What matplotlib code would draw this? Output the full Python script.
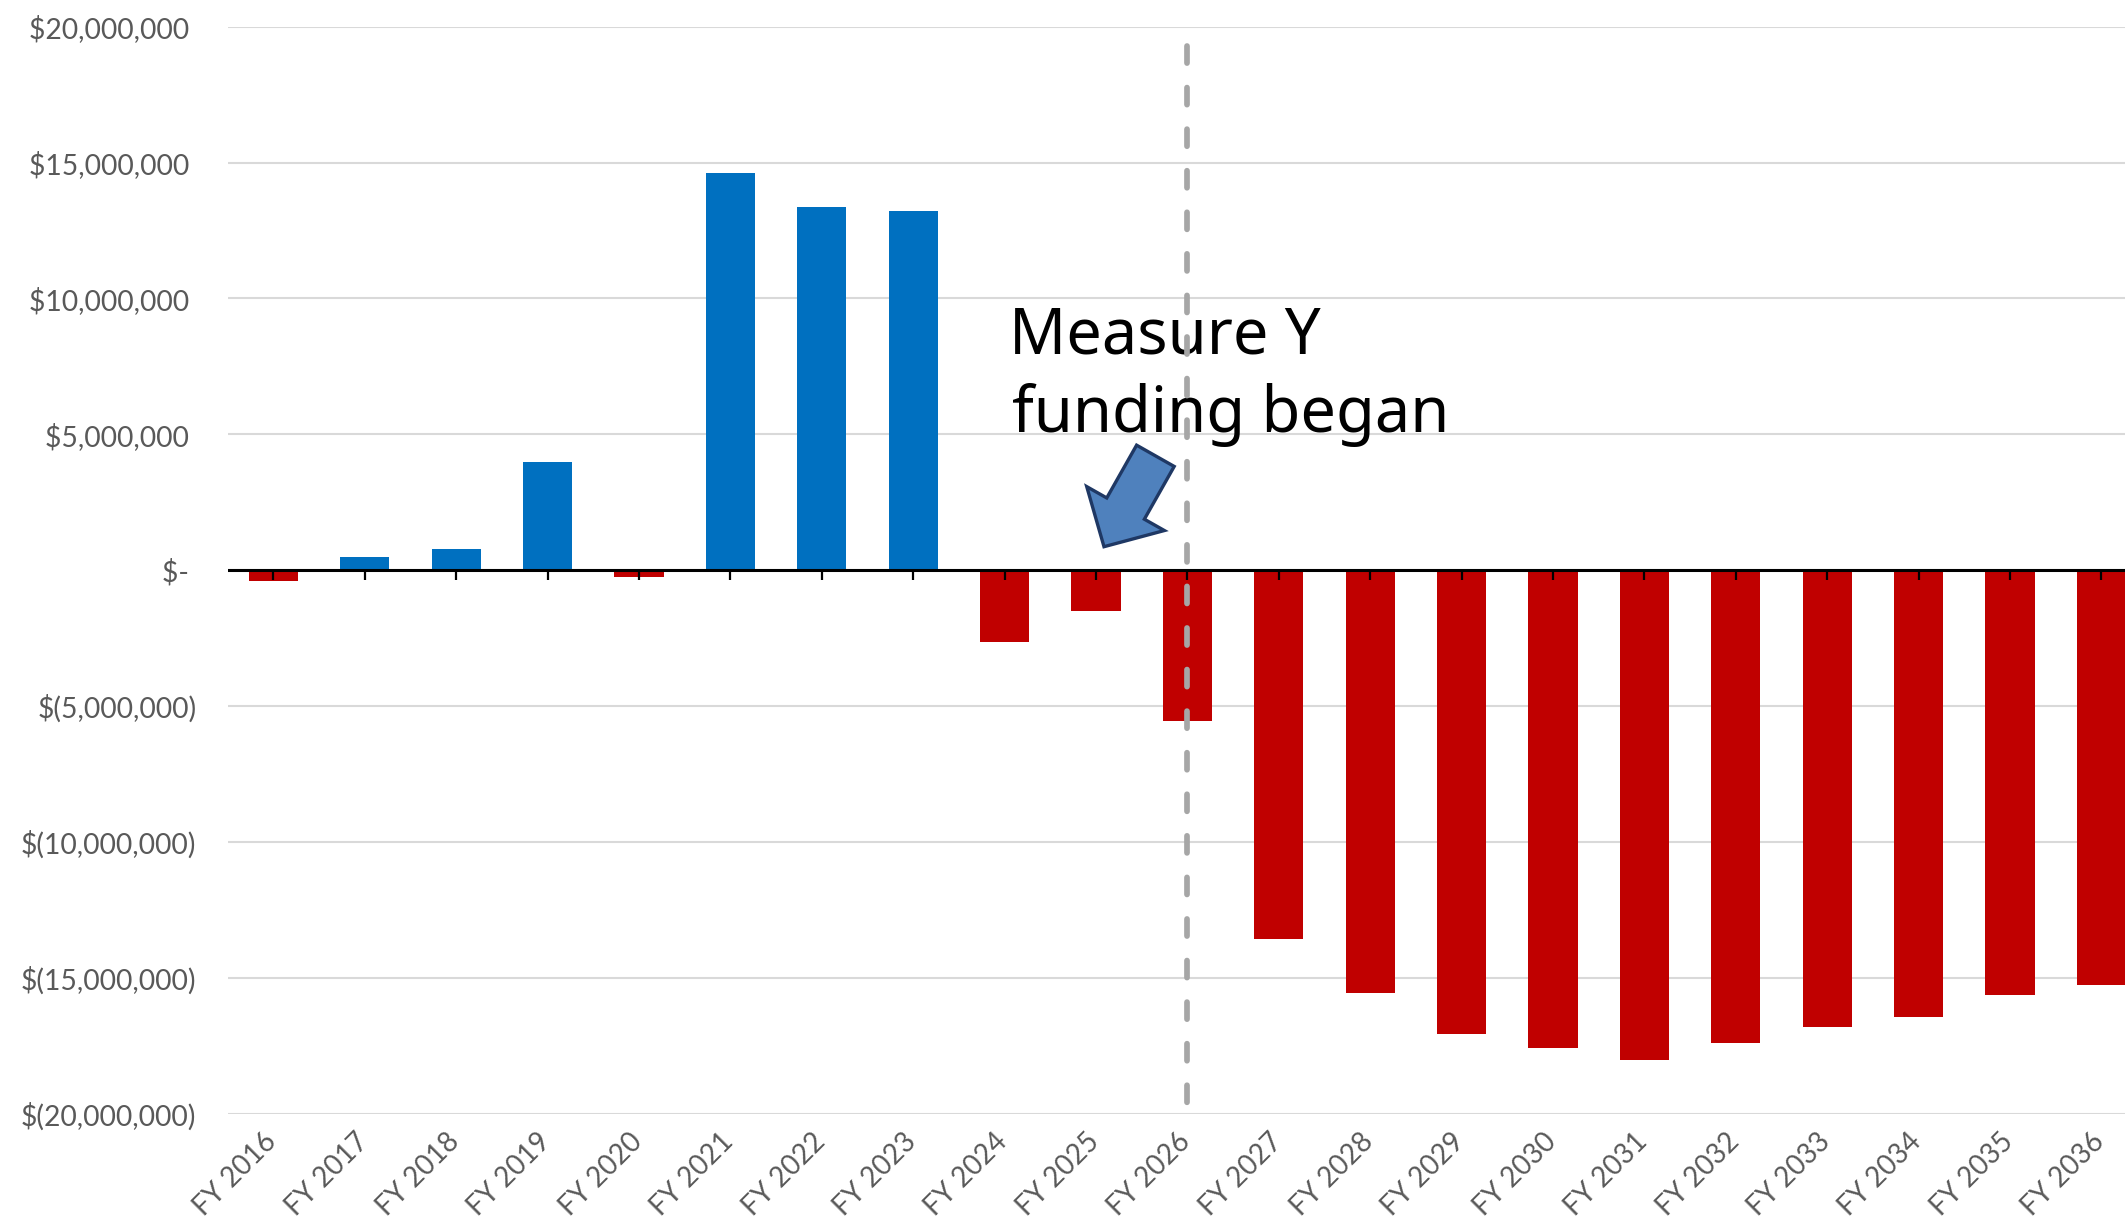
import matplotlib.pyplot as plt
import numpy as np
from matplotlib.patches import FancyArrow
from matplotlib.transforms import Affine2D, ScaledTranslation

# fiscal years and net balance (dollars)
years = ["FY 2016", "FY 2017", "FY 2018", "FY 2019", "FY 2020", "FY 2021", "FY 2022",
         "FY 2023", "FY 2024", "FY 2025", "FY 2026", "FY 2027", "FY 2028", "FY 2029",
         "FY 2030", "FY 2031", "FY 2032", "FY 2033", "FY 2034", "FY 2035", "FY 2036"]
net = [-400000, 490000, 790000, 4000000, -260000, 14620000, 13370000,
       13220000, -2650000, -1500000, -5550000, -13570000, -15570000, -17060000,
       -17600000, -18040000, -17380000, -16800000, -16440000, -15630000, -15250000]
yticks = [-20000000, -15000000, -10000000, -5000000, 0,
          5000000, 10000000, 15000000, 20000000]
marker_year = "FY 2026"
note_lines = ["Measure Y", "funding began"]

W, H = 2125, 1218
fig = plt.figure(figsize=(W / 100, H / 100), dpi=100)
fig.patch.set_facecolor("white")
ax = fig.add_axes([227.7 / W, 1 - 1113.7 / H, 1 - 227.7 / W, (1113.7 - 26.7) / H])


def acct(v):
    if v == 0:
        return "$- "
    if v < 0:
        return f"$({abs(v):,.0f})"
    return f"${v:,.0f} "


x = np.arange(len(years))
colors = ["#0070C0" if v > 0 else "#C00000" for v in net]
ax.bar(x, net, width=0.54, color=colors, zorder=2)

# zero axis with downward ticks
ax.axhline(0, color="black", lw=2.2, zorder=3)
ax.plot(x, np.zeros(len(x)), linestyle="none", marker=3, markersize=7,
        markeredgewidth=1.6, color="black", zorder=3)

# dashed marker line, dash pattern starting at the top
ax.axvline(years.index(marker_year), ymin=0.9827, ymax=0, color="#A6A6A6", lw=4.1,
           linestyle=(0, (3.0, 4.3)), dash_capstyle="round", zorder=5)

ax.set_xlim(-0.5, 20.258)
ax.set_ylim(-20000000, 20000000)
ax.set_yticks(yticks)
ax.set_yticklabels([acct(v) for v in yticks], fontfamily="Lato", fontsize=20.3, color="#595959")
ax.set_xticks(x)
ax.set_xticklabels(years, rotation=45, ha="right", va="center", rotation_mode="anchor",
                   fontfamily="Lato", fontsize=20, color="#595959")
ax.tick_params(axis="y", length=0, pad=22.5)
ax.tick_params(axis="x", length=0, pad=17)
shift = ScaledTranslation(-1 / 100, 0, fig.dpi_scale_trans)
for lab in ax.get_xticklabels():
    lab.set_transform(lab.get_transform() + shift)

ax.yaxis.grid(True, color="#D9D9D9", lw=1.5)
ax.set_axisbelow(True)
for s in ax.spines.values():
    s.set_visible(False)

# annotation text (pixel positions)
px = Affine2D().scale(1 / W, -1 / H).translate(0, 1) + fig.transFigure
ax.text(1009, 353.3, note_lines[0], transform=px, fontfamily="Noto Sans", fontsize=45.5,
        color="black", va="baseline", ha="left", zorder=4)
ax.text(1012, 431.7, note_lines[1], transform=px, fontfamily="Noto Sans", fontsize=45.5,
        color="black", va="baseline", ha="left", zorder=4)

# block arrow
arrow = FancyArrow(1155.4, 455.8, -51.4, 90.9, width=43.2, head_width=89.2,
                   head_length=43.8, length_includes_head=True,
                   facecolor="#4F81BD", edgecolor="#1F3864", lw=2.4, transform=px)
fig.add_artist(arrow)

plt.savefig("out.png", dpi=100)
